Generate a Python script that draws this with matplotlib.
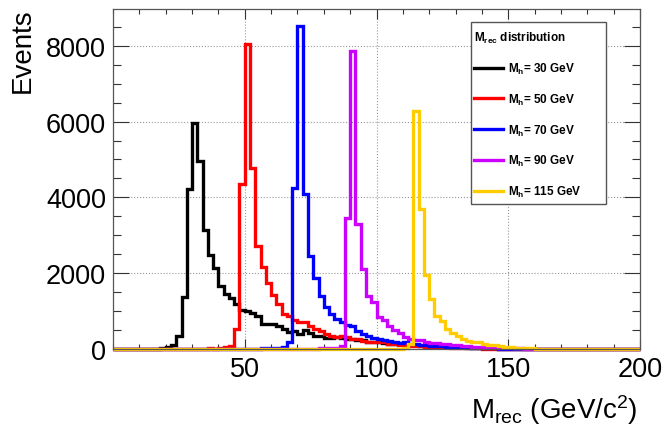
import numpy as np
import matplotlib
matplotlib.use('Agg')
import matplotlib.pyplot as plt
from matplotlib.patches import Rectangle
from matplotlib.lines import Line2D
from matplotlib.ticker import MultipleLocator, FixedLocator

plt.rcParams['font.family'] = ['Liberation Sans', 'DejaVu Sans']
plt.rcParams['mathtext.fontset'] = 'custom'
plt.rcParams['mathtext.rm'] = 'Liberation Sans'
plt.rcParams['mathtext.it'] = 'Liberation Sans:italic'
plt.rcParams['mathtext.bf'] = 'Liberation Sans:bold'

# binning: 100 bins of 2 GeV from 0 to 200
bin_width = 2
x_min, x_max = 0, 200
edges = np.arange(x_min, x_max + bin_width, bin_width)

mh30 = [0, 0, 0, 0, 0, 0, 0, 0, 10, 20,
        40, 110, 330, 1360, 4230, 5950, 4950, 3150, 2480, 2150,
        1670, 1440, 1340, 1180, 1030, 1010, 940, 880, 660, 660,
        650, 600, 530, 450, 480, 400, 510, 410, 350, 350,
        290, 290, 310, 300, 263, 260, 240, 235, 180, 175,
        175, 170, 130, 130, 125, 120, 110, 100, 90, 85,
        75, 70, 60, 55, 50, 45, 40, 35, 30, 25,
        20, 18, 15, 12, 10, 8, 6, 4, 3, 2,
        0, 0, 0, 0, 0, 0, 0, 0, 0, 0,
        0, 0, 0, 0, 0, 0, 0, 0, 0, 0]

mh50 = [0, 0, 0, 0, 0, 0, 0, 0, 0, 0,
        0, 0, 0, 0, 0, 0, 10, 10, 15, 10,
        20, 50, 90, 530, 4340, 8050, 4780, 2720, 2175, 1754,
        1420, 1184, 920, 860, 770, 700, 710, 600, 526, 482,
        400, 350, 325, 350, 307, 263, 263, 220, 175, 190,
        175, 175, 130, 130, 110, 100, 90, 80, 70, 60,
        55, 50, 45, 40, 35, 30, 25, 20, 18, 15,
        12, 10, 8, 6, 5, 4, 3, 2, 1, 0,
        0, 0, 0, 0, 0, 0, 0, 0, 0, 0,
        0, 0, 0, 0, 0, 0, 0, 0, 0, 0]

mh70 = [0, 0, 0, 0, 0, 0, 0, 0, 0, 0,
        0, 0, 0, 0, 0, 0, 0, 0, 0, 0,
        0, 0, 0, 0, 0, 0, 0, 0, 20, 25,
        30, 30, 40, 175, 4250, 8520, 4090, 2450, 1885, 1400,
        1100, 920, 790, 700, 640, 614, 482, 395, 350, 290,
        263, 237, 200, 175, 150, 175, 130, 120, 110, 100,
        90, 80, 70, 60, 55, 50, 45, 40, 35, 30,
        25, 20, 15, 12, 10, 8, 6, 4, 3, 2,
        0, 0, 0, 0, 0, 0, 0, 0, 0, 0,
        0, 0, 0, 0, 0, 0, 0, 0, 0, 0]

mh90 = [0, 0, 0, 0, 0, 0, 0, 0, 0, 0,
        0, 0, 0, 0, 0, 0, 0, 0, 0, 0,
        0, 0, 0, 0, 0, 0, 0, 0, 0, 0,
        0, 0, 0, 0, 0, 0, 0, 0, 0, 20,
        25, 30, 35, 90, 3460, 7850, 3300, 2100, 1400, 1250,
        850, 763, 614, 500, 412, 307, 263, 250, 240, 190,
        170, 150, 140, 120, 110, 95, 85, 75, 65, 55,
        50, 45, 40, 35, 30, 25, 20, 15, 12, 8,
        5, 3, 0, 0, 0, 0, 0, 0, 0, 0,
        0, 0, 0, 0, 0, 0, 0, 0, 0, 0]

mh115 = [0, 0, 0, 0, 0, 0, 0, 0, 0, 0,
         0, 0, 0, 0, 0, 0, 0, 0, 0, 0,
         0, 0, 0, 0, 0, 0, 0, 0, 0, 0,
         0, 0, 0, 0, 0, 0, 0, 0, 0, 0,
         0, 0, 0, 0, 0, 0, 0, 0, 0, 0,
         0, 0, 0, 0, 10, 30, 120, 6280, 3690, 1940,
         1325, 860, 737, 535, 420, 333, 272, 210, 190, 180,
         140, 100, 96, 90, 50, 40, 30, 25, 20, 15,
         10, 5, 0, 0, 0, 0, 0, 0, 0, 0,
         0, 0, 0, 0, 0, 0, 0, 0, 0, 0]

series = [mh30, mh50, mh70, mh90, mh115]
labels = [r'$\mathbf{M_{h}}$= 30 GeV', r'$\mathbf{M_{h}}$= 50 GeV',
          r'$\mathbf{M_{h}}$= 70 GeV', r'$\mathbf{M_{h}}$= 90 GeV',
          r'$\mathbf{M_{h}}$= 115 GeV']
colors = ['#000000', '#ff0000', '#0000ff', '#cc00ff', '#ffcc00']
x_ticks = [50, 100, 150, 200]
y_max = 8970

W, H = 666, 427
fig = plt.figure(figsize=(W / 100, H / 100), dpi=100)
ax = fig.add_axes([113 / W, (H - 350) / H, 527 / W, 340 / H])

for vals, col in zip(series, colors):
    ax.stairs(vals, edges, baseline=0, color=col, linewidth=2.4, clip_on=False)

ax.set_xlim(x_min, x_max)
ax.set_ylim(0, y_max)
ax.xaxis.set_major_locator(FixedLocator(x_ticks))
ax.xaxis.set_minor_locator(MultipleLocator(10))
ax.yaxis.set_major_locator(MultipleLocator(2000))
ax.yaxis.set_minor_locator(MultipleLocator(500))
ax.grid(True, which='major', linestyle=':', color='#999999', linewidth=0.8)
ax.set_axisbelow(True)

ax.tick_params(axis='both', which='both', direction='in', top=True, right=True,
               colors='#333333', labelcolor='black', width=0.8)
ax.tick_params(axis='x', which='major', length=7, labelsize=19.5, pad=5)
ax.tick_params(axis='x', which='minor', length=3.6)
ax.tick_params(axis='y', which='major', length=11.5, labelsize=19.5, pad=5)
ax.tick_params(axis='y', which='minor', length=5.8)
for sp in ax.spines.values():
    sp.set_color('#555555')
    sp.set_linewidth(0.9)

fig.text(23 / W, 1 - 8 / H, 'Events', rotation=90, ha='center', va='top', fontsize=20)
fig.text(638 / W, 1 - 419 / H, r'M$_{\mathrm{rec}}$ (GeV/c$^{2}$)', ha='right',
         va='baseline', fontsize=20)

# legend box
rect = Rectangle((471 / W, 1 - 205 / H), 135 / W, 182 / H, transform=fig.transFigure,
                 facecolor='white', edgecolor='#555555', linewidth=1.0, zorder=9)
fig.add_artist(rect)
handles = [Line2D([], [], color=c, linewidth=2.4) for c in colors]
leg = fig.legend(handles, labels, loc='upper left',
                 bbox_to_anchor=(474 / W, 1 - 31 / H), bbox_transform=fig.transFigure,
                 frameon=False, title=r'$\mathbf{M_{rec}}$ distribution', alignment='left',
                 prop={'weight': 'bold', 'size': 8.5},
                 title_fontproperties={'weight': 'bold', 'size': 8.5},
                 handlelength=2.45, handletextpad=0.45, labelspacing=1.33,
                 borderpad=0, borderaxespad=0)
leg.set_zorder(10)

fig.savefig('out.png', dpi=100)
